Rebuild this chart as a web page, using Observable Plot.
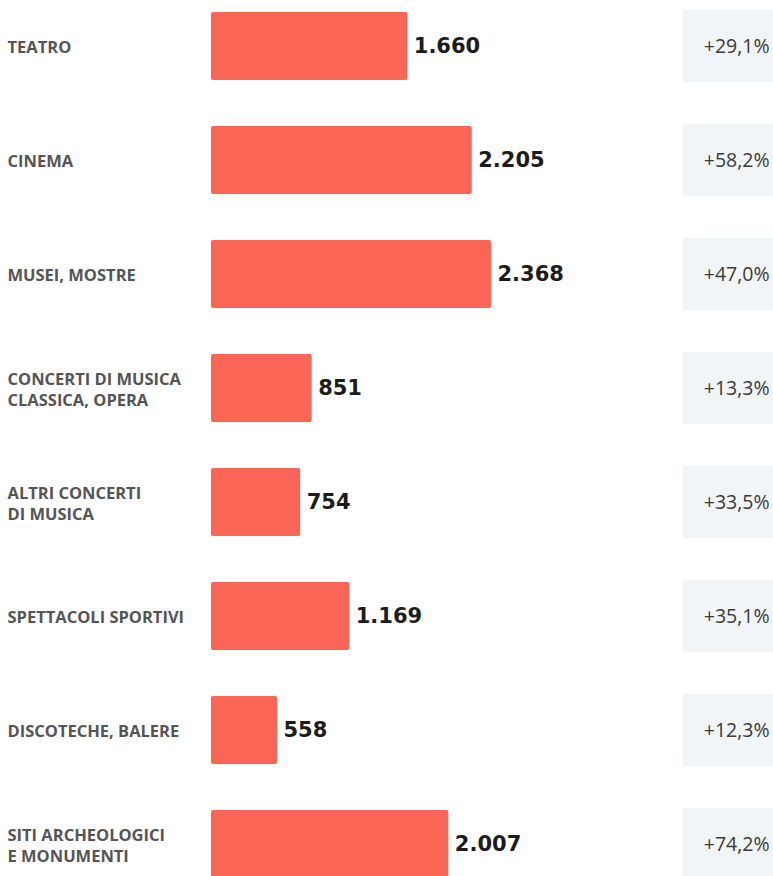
<!DOCTYPE html>
<html>
<head>
<meta charset="utf-8">
<script src="https://cdn.jsdelivr.net/npm/d3@7"></script>
<script src="https://cdn.jsdelivr.net/npm/@observablehq/plot@0.6"></script>
<style>
  html, body { margin: 0; padding: 0; background: #fff; }
  #chart svg { display: block; }
</style>
</head>
<body>
<div id="chart"></div>
<script>
const categories = [
  "TEATRO",
  "CINEMA",
  "MUSEI, MOSTRE",
  "CONCERTI DI MUSICA\nCLASSICA, OPERA",
  "ALTRI CONCERTI\nDI MUSICA",
  "SPETTACOLI SPORTIVI",
  "DISCOTECHE, BALERE",
  "SITI ARCHEOLOGICI\nE MONUMENTI"
];
const values = [1660, 2205, 2368, 851, 754, 1169, 558, 2007];
const changes = ["+29,1%", "+58,2%", "+47,0%", "+13,3%", "+33,5%", "+35,1%", "+12,3%", "+74,2%"];

const data = categories.map((c, i) => ({cat: c, value: values[i], change: changes[i]}));

const it = d3.formatLocale({decimal: ",", thousands: ".", grouping: [3], currency: ["", "€"]});
const fmt = it.format(",d");

const chart = Plot.plot({
  width: 773,
  height: 876,
  margin: 0,
  style: {background: "#fff"},
  x: {domain: [0, 2368], range: [211, 491], axis: null},
  y: {domain: categories, range: [-11, 902], paddingInner: 0.4, paddingOuter: 0.2, axis: null},
  marks: [
    Plot.cell(data, {y: "cat", fill: "#f2f5f7", insetLeft: 683, insetTop: -2, insetBottom: -2}),
    Plot.barX(data, {y: "cat", x: "value", fill: "#fa6556", rx: 2}),
    Plot.text(data, {
      y: "cat", text: "cat", frameAnchor: "left", dx: 7, textAnchor: "start",
      fill: "#555", fontSize: 16.5, fontWeight: 700, fontFamily: "Open Sans",
      lineHeight: 1.3, letterSpacing: "0.7px"
    }),
    Plot.text(data, {
      y: "cat", x: "value", text: d => fmt(d.value), dx: 6, textAnchor: "start",
      fill: "#1c1c1c", fontSize: 21, fontWeight: 700, fontFamily: "DejaVu Sans"
    }),
    Plot.text(data, {
      y: "cat", text: "change", frameAnchor: "right", dx: -4, textAnchor: "end",
      fill: "#3a3a3a", fontSize: 19.5, fontFamily: "Open Sans"
    })
  ]
});
document.getElementById("chart").appendChild(chart);
</script>
</body>
</html>
